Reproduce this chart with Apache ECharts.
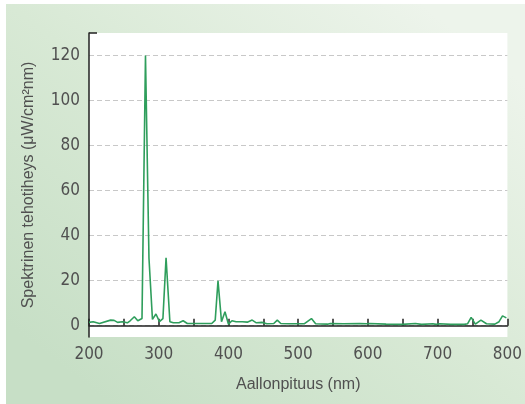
<!DOCTYPE html>
<html>
<head>
<meta charset="utf-8">
<script src="https://cdn.jsdelivr.net/npm/echarts@6/dist/echarts.min.js"></script>
<style>
  html, body { margin: 0; padding: 0; background: #fff; }
  #box { width: 525px; height: 404px; }
</style>
</head>
<body>
<div id="box"></div>
<script>
// aallonpituudet (nm) ja spektrinen tehotiheys
var wavelengths = [200, 206, 215, 231, 236, 241, 248, 255, 259, 265, 270, 276, 281, 286, 291, 296, 301, 306, 310.5, 316,
  321, 329, 335, 341, 350, 364, 376, 381, 385, 390, 395, 400, 405, 411, 420, 427, 434, 440, 448, 455,
  465, 470, 475, 486, 509, 519, 525, 542, 546, 565, 588, 598, 602, 626, 649, 668, 677, 693, 698, 703,
  719, 738, 743, 748, 754, 762, 770, 782, 788, 793, 798.5];
var power = [1.5, 1.8, 1.0, 2.5, 2.4, 1.5, 1.8, 1.3, 2.2, 4.0, 2.2, 3.2, 120, 30, 2.8, 5.2, 1.8, 3.2, 30.2, 1.8,
  1.3, 1.3, 2.2, 1.0, 1.0, 1.0, 1.0, 2.5, 20, 1.8, 6.2, 0.7, 2.2, 1.8, 1.8, 1.6, 2.5, 1.3, 1.5, 0.9,
  1.0, 2.5, 1.0, 0.9, 0.9, 3.2, 0.9, 0.7, 1.0, 0.9, 1.0, 0.9, 1.0, 0.7, 0.6, 1.0, 0.6, 0.9, 0.6, 0.9,
  0.6, 0.6, 0.9, 3.7, 0.7, 2.5, 0.9, 0.7, 1.8, 4.4, 3.5];
var xLabels = [200, 300, 400, 500, 600, 700, 800];
var yLabels = [0, 20, 40, 60, 80, 100, 120];

var seriesData = wavelengths.map(function (w, i) { return [w, power[i]]; });

var chart = echarts.init(document.getElementById('box'));
var numFont = '"Liberation Sans Narrow", "DejaVu Sans Condensed", sans-serif';

var option = {
  animation: false,
  graphic: [{
    type: 'rect',
    z: -10,
    shape: { x: 6, y: 4, width: 519, height: 400 },
    style: {
      fill: {
        type: 'linear', x: 0.8, y: 0, x2: 0.2, y2: 1,
        colorStops: [
          { offset: 0, color: '#edf4eb' },
          { offset: 0.5, color: '#d8e9d5' },
          { offset: 1, color: '#c7dfc6' }
        ]
      }
    }
  }],
  grid: {
    left: 89, right: 7, top: 33, bottom: 67,
    show: true, backgroundColor: '#ffffff', borderWidth: 0
  },
  xAxis: {
    type: 'value',
    min: 200, max: 800, interval: 50,
    name: 'Aallonpituus (nm)',
    nameLocation: 'middle',
    nameGap: 40,
    nameTextStyle: { fontFamily: 'Liberation Sans, Arial, sans-serif', fontSize: 16, color: '#505050' },
    axisLine: { lineStyle: { color: '#222', width: 1.5 } },
    axisTick: { inside: true, length: 7, lineStyle: { color: '#222', width: 1.5 } },
    axisLabel: {
      customValues: xLabels,
      margin: 9,
      fontFamily: numFont, fontSize: 17, color: '#505050'
    },
    splitLine: { show: false }
  },
  yAxis: [{
    type: 'value',
    min: -5, max: 130,
    name: 'Spektrinen tehotiheys (μW/cm²nm)',
    nameLocation: 'middle',
    nameGap: 52,
    nameTextStyle: { fontFamily: 'Liberation Sans, Arial, sans-serif', fontSize: 16, color: '#505050' },
    axisLine: { show: true, lineStyle: { color: '#222', width: 1.5 } },
    axisTick: { show: false, customValues: yLabels },
    axisLabel: {
      customValues: yLabels,
      margin: 9,
      fontFamily: numFont, fontSize: 17, color: '#505050'
    },
    splitLine: { show: true, lineStyle: { color: '#c8c8c8', type: [5, 3], width: 1 } }
  }, {
    type: 'value',
    position: 'left',
    min: -5, max: 130,
    axisLine: { show: false },
    axisTick: { show: true, inside: true, length: 8, customValues: [130], lineStyle: { color: '#222', width: 1.5 } },
    axisLabel: { show: false },
    splitLine: { show: false }
  }],
  series: [{
    type: 'line',
    data: seriesData,
    showSymbol: false,
    lineStyle: { color: '#2f9e5c', width: 1.6 },
    clip: true
  }]
};

chart.setOption(option);
</script>
</body>
</html>
